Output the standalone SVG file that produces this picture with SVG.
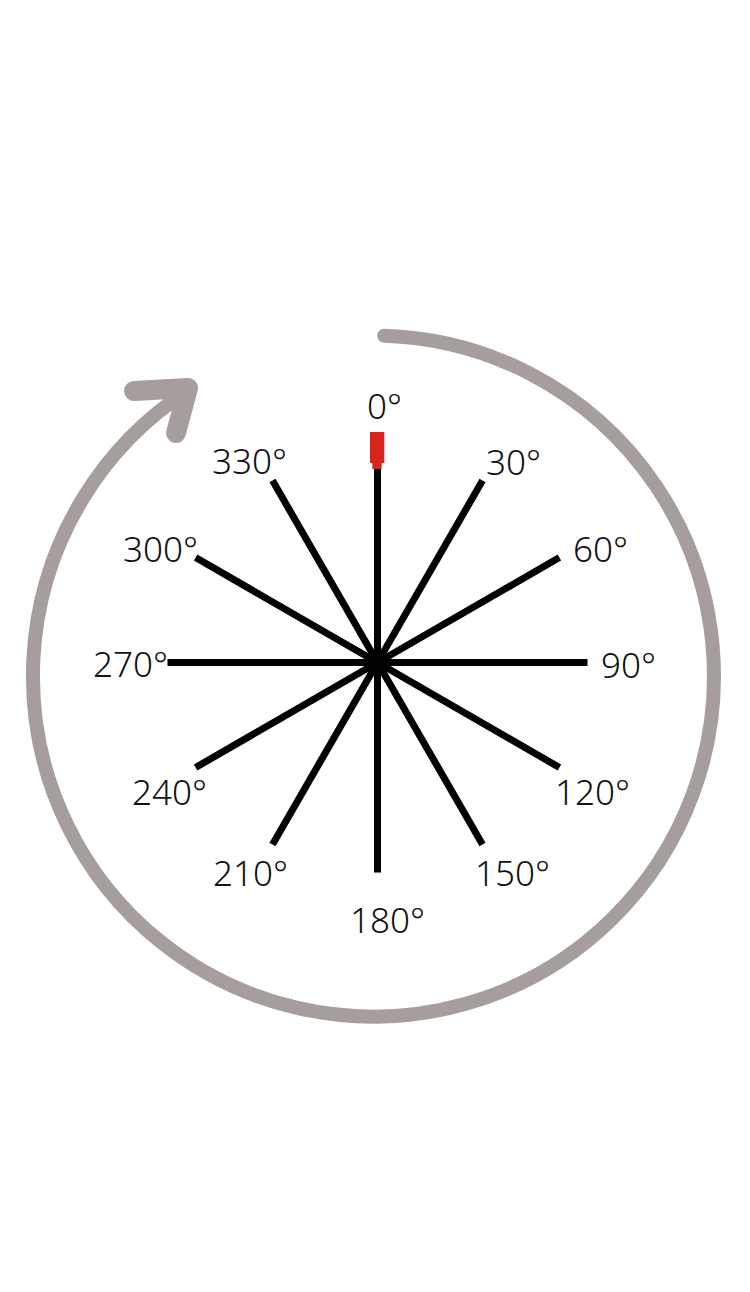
<svg xmlns="http://www.w3.org/2000/svg" width="750" height="1292" viewBox="0 0 750 1292">
<style>
.spoke{stroke:#000;stroke-width:7;stroke-linecap:butt}
.lbl{font-family:"Noto Sans","Liberation Sans",sans-serif;font-size:35px;fill:#111;font-weight:300}
.ring{fill:none;stroke:#a59e9c;stroke-linecap:round;stroke-linejoin:round}
</style>
<rect width="750" height="1292" fill="#fff"/>
<g id="rotation-arrow">
<path class="ring" stroke-width="14" d="M384.2,335.7 A340.5,340.5 0 1 1 188.1,390.4"/>
<path class="ring" stroke-width="20" d="M134,391 L188,388 L176,433"/>
</g>
<g id="connectors">
<line class="spoke" x1="377.5" y1="662.5" x2="377.5" y2="466"/>
<line class="spoke" x1="377.5" y1="662.5" x2="482.5" y2="480.6"/>
<line class="spoke" x1="377.5" y1="662.5" x2="559.4" y2="557.5"/>
<line class="spoke" x1="377.5" y1="662.5" x2="587.5" y2="662.5"/>
<line class="spoke" x1="377.5" y1="662.5" x2="559.4" y2="767.5"/>
<line class="spoke" x1="377.5" y1="662.5" x2="482.5" y2="844.4"/>
<line class="spoke" x1="377.5" y1="662.5" x2="377.5" y2="872.5"/>
<line class="spoke" x1="377.5" y1="662.5" x2="272.5" y2="844.4"/>
<line class="spoke" x1="377.5" y1="662.5" x2="195.6" y2="767.5"/>
<line class="spoke" x1="377.5" y1="662.5" x2="167.5" y2="662.5"/>
<line class="spoke" x1="377.5" y1="662.5" x2="195.6" y2="557.5"/>
<line class="spoke" x1="377.5" y1="662.5" x2="272.5" y2="480.6"/>
<circle cx="377.5" cy="662.5" r="8" fill="#000"/>
</g>
<g id="pointer">
<rect x="370" y="432" width="14.3" height="31" fill="#d6251d"/>
<rect x="372.3" y="462" width="9.4" height="7" fill="#d6251d"/>
</g>
<g id="labels">
<text class="lbl" x="367" y="419">0°</text>
<text class="lbl" x="486" y="475">30°</text>
<text class="lbl" x="573" y="562">60°</text>
<text class="lbl" x="601" y="678">90°</text>
<text class="lbl" x="555" y="805">120°</text>
<text class="lbl" x="475" y="886">150°</text>
<text class="lbl" x="350" y="933">180°</text>
<text class="lbl" x="213" y="886">210°</text>
<text class="lbl" x="132" y="805">240°</text>
<text class="lbl" x="93" y="677">270°</text>
<text class="lbl" x="123" y="562">300°</text>
<text class="lbl" x="212" y="474">330°</text>
</g>
</svg>
